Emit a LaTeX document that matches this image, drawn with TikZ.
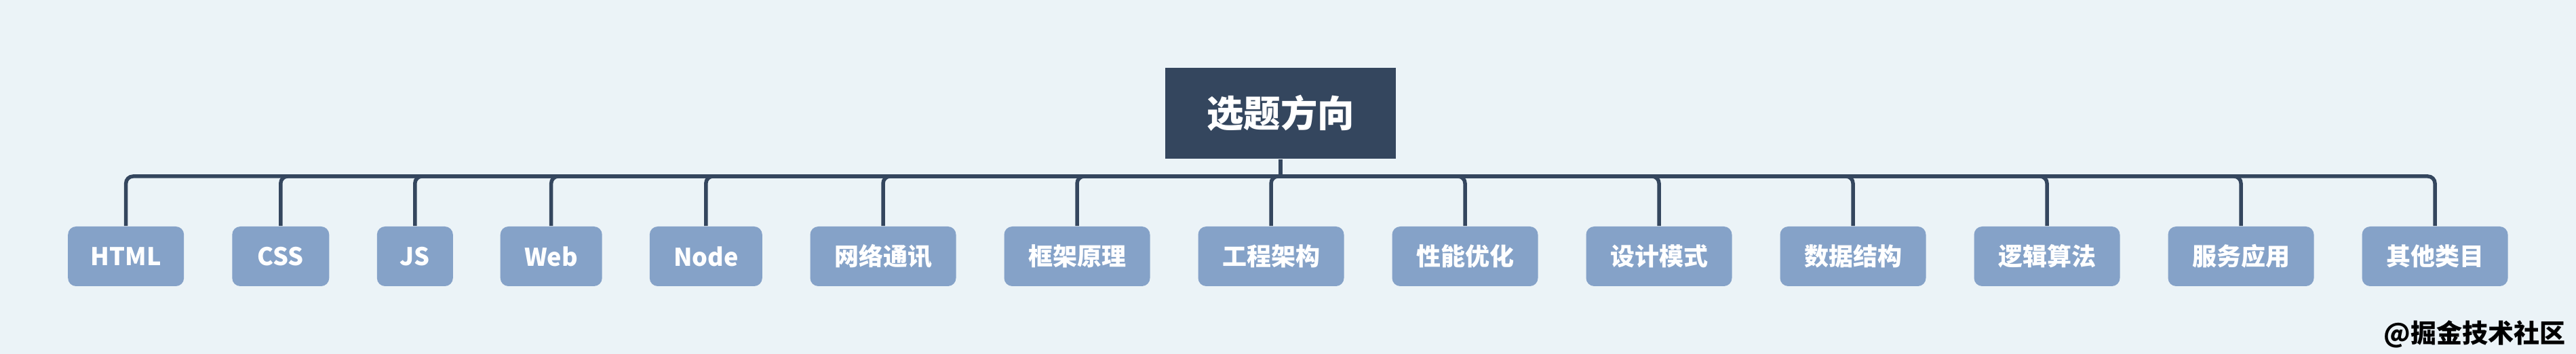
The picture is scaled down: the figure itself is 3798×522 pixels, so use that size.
\documentclass[tikz,border=0pt]{standalone}
\usepackage{fontspec}
\setmainfont{Noto Sans CJK SC}
\definecolor{bgc}{HTML}{EBF3F7}
\definecolor{rootc}{HTML}{34465E}
\definecolor{childc}{HTML}{85A2C8}
\definecolor{linec}{HTML}{34465E}
\tikzset{
  rootbox/.style={fill=rootc, text=white, font=\bfseries\fontsize{13.6pt}{14pt}\selectfont,
    minimum width=340*0.25pt, minimum height=134*0.25pt, inner sep=0pt},
  childbox/.style={fill=childc, text=white, rounded corners=3pt, font=\bfseries\fontsize{9pt}{10pt}\selectfont,
    minimum height=88*0.25pt, inner sep=0pt, minimum width=#1*0.25pt},
  conn/.style={draw=linec, line width=1.375pt, rounded corners=2.6pt},
}
\begin{document}
\begin{tikzpicture}[x=0.25pt, y=-0.25pt]
\useasboundingbox[fill=bgc] (0,0) rectangle (3798,522);
\node[rootbox] (root) at (1888,167) {选题方向};
\coordinate (j) at (1888,260);
\node[childbox=171] (c1) at (185.7,378) {HTML};
\node[childbox=143] (c2) at (413.8,378) {CSS};
\node[childbox=112] (c3) at (611.8,378) {JS};
\node[childbox=150] (c4) at (812.7,378) {Web};
\node[childbox=166] (c5) at (1040.8,378) {Node};
\node[childbox=215] (c6) at (1302,378) {网络通讯};
\node[childbox=215] (c7) at (1588,378) {框架原理};
\node[childbox=215] (c8) at (1874,378) {工程架构};
\node[childbox=215] (c9) at (2160,378) {性能优化};
\node[childbox=215] (c10) at (2446,378) {设计模式};
\node[childbox=215] (c11) at (2732,378) {数据结构};
\node[childbox=215] (c12) at (3018,378) {逻辑算法};
\node[childbox=215] (c13) at (3304,378) {服务应用};
\node[childbox=215] (c14) at (3590,378) {其他类目};
\draw[conn] (root.south) -- (j);
\foreach \c in {c1,c2,c3,c4,c5,c6,c7,c8,c9,c10,c11,c12,c13,c14}{
  \draw[conn] (j) -| (\c.north);
}
\node[anchor=east, inner sep=0pt, text=black, font=\bfseries\fontsize{9.5pt}{10pt}\selectfont] (wm) at (3783,493) {@掘金技术社区};
\end{tikzpicture}
\end{document}
